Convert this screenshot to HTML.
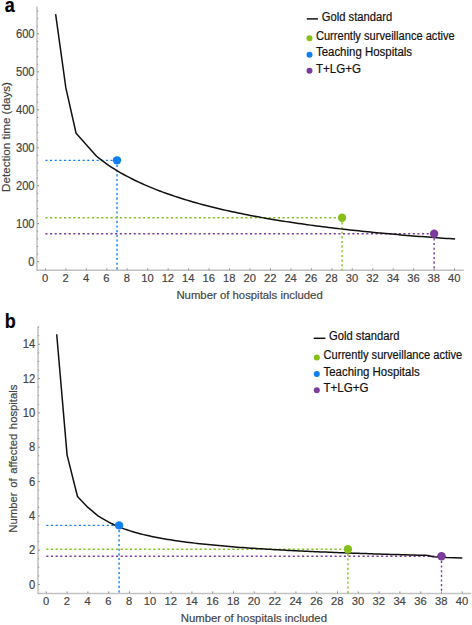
<!DOCTYPE html><html><head><meta charset="utf-8"><style>html,body{margin:0;padding:0;background:#fff;}svg{display:block;}text{font-family:"Liberation Sans",sans-serif;stroke:currentColor;stroke-width:0.18px;}</style></head><body>
<svg width="472" height="625" viewBox="0 0 472 625">
<path d="M37.0,6.4V270.3H463.8" fill="none" stroke="#c2c2c2" stroke-width="1.5"/>
<path d="M37.0,261.60h2.0M37.0,254.01h1.2M37.0,246.42h1.2M37.0,238.83h1.2M37.0,231.24h1.2M37.0,223.65h2.0M37.0,216.06h1.2M37.0,208.47h1.2M37.0,200.88h1.2M37.0,193.29h1.2M37.0,185.70h2.0M37.0,178.11h1.2M37.0,170.52h1.2M37.0,162.93h1.2M37.0,155.34h1.2M37.0,147.75h2.0M37.0,140.16h1.2M37.0,132.57h1.2M37.0,124.98h1.2M37.0,117.39h1.2M37.0,109.80h2.0M37.0,102.21h1.2M37.0,94.62h1.2M37.0,87.03h1.2M37.0,79.44h1.2M37.0,71.85h2.0M37.0,64.26h1.2M37.0,56.67h1.2M37.0,49.08h1.2M37.0,41.49h1.2M37.0,33.90h2.0M37.0,26.31h1.2M37.0,18.72h1.2M37.0,11.13h1.2M45.40,270.3v-2.0M65.86,270.3v-2.0M86.32,270.3v-2.0M106.78,270.3v-2.0M127.24,270.3v-2.0M147.70,270.3v-2.0M168.16,270.3v-2.0M188.62,270.3v-2.0M209.08,270.3v-2.0M229.54,270.3v-2.0M250.00,270.3v-2.0M270.46,270.3v-2.0M290.92,270.3v-2.0M311.38,270.3v-2.0M331.84,270.3v-2.0M352.30,270.3v-2.0M372.76,270.3v-2.0M393.22,270.3v-2.0M413.68,270.3v-2.0M434.14,270.3v-2.0M454.60,270.3v-2.0" stroke="#8a8a8a" stroke-width="0.9" fill="none"/>
<text transform="translate(34.6,265.80) scale(1,1.07)" text-anchor="end" font-size="11.2" fill="#444" color="#444">0</text>
<text transform="translate(34.6,227.85) scale(1,1.07)" text-anchor="end" font-size="11.2" fill="#444" color="#444">100</text>
<text transform="translate(34.6,189.90) scale(1,1.07)" text-anchor="end" font-size="11.2" fill="#444" color="#444">200</text>
<text transform="translate(34.6,151.95) scale(1,1.07)" text-anchor="end" font-size="11.2" fill="#444" color="#444">300</text>
<text transform="translate(34.6,114.00) scale(1,1.07)" text-anchor="end" font-size="11.2" fill="#444" color="#444">400</text>
<text transform="translate(34.6,76.05) scale(1,1.07)" text-anchor="end" font-size="11.2" fill="#444" color="#444">500</text>
<text transform="translate(34.6,38.10) scale(1,1.07)" text-anchor="end" font-size="11.2" fill="#444" color="#444">600</text>
<text transform="translate(45.10,282.2)" text-anchor="middle" font-size="11.2" fill="#444" color="#444">0</text>
<text transform="translate(65.56,282.2)" text-anchor="middle" font-size="11.2" fill="#444" color="#444">2</text>
<text transform="translate(86.02,282.2)" text-anchor="middle" font-size="11.2" fill="#444" color="#444">4</text>
<text transform="translate(106.48,282.2)" text-anchor="middle" font-size="11.2" fill="#444" color="#444">6</text>
<text transform="translate(126.94,282.2)" text-anchor="middle" font-size="11.2" fill="#444" color="#444">8</text>
<text transform="translate(147.40,282.2)" text-anchor="middle" font-size="11.2" fill="#444" color="#444">10</text>
<text transform="translate(167.86,282.2)" text-anchor="middle" font-size="11.2" fill="#444" color="#444">12</text>
<text transform="translate(188.32,282.2)" text-anchor="middle" font-size="11.2" fill="#444" color="#444">14</text>
<text transform="translate(208.78,282.2)" text-anchor="middle" font-size="11.2" fill="#444" color="#444">16</text>
<text transform="translate(229.24,282.2)" text-anchor="middle" font-size="11.2" fill="#444" color="#444">18</text>
<text transform="translate(249.70,282.2)" text-anchor="middle" font-size="11.2" fill="#444" color="#444">20</text>
<text transform="translate(270.16,282.2)" text-anchor="middle" font-size="11.2" fill="#444" color="#444">22</text>
<text transform="translate(290.62,282.2)" text-anchor="middle" font-size="11.2" fill="#444" color="#444">24</text>
<text transform="translate(311.08,282.2)" text-anchor="middle" font-size="11.2" fill="#444" color="#444">26</text>
<text transform="translate(331.54,282.2)" text-anchor="middle" font-size="11.2" fill="#444" color="#444">28</text>
<text transform="translate(352.00,282.2)" text-anchor="middle" font-size="11.2" fill="#444" color="#444">30</text>
<text transform="translate(372.46,282.2)" text-anchor="middle" font-size="11.2" fill="#444" color="#444">32</text>
<text transform="translate(392.92,282.2)" text-anchor="middle" font-size="11.2" fill="#444" color="#444">34</text>
<text transform="translate(413.38,282.2)" text-anchor="middle" font-size="11.2" fill="#444" color="#444">36</text>
<text transform="translate(433.84,282.2)" text-anchor="middle" font-size="11.2" fill="#444" color="#444">38</text>
<text transform="translate(454.30,282.2)" text-anchor="middle" font-size="11.2" fill="#444" color="#444">40</text>
<text transform="translate(176.4,298.7)" font-size="11.35" fill="#444" color="#444">Number of hospitals included</text>
<text transform="translate(9.9,137.0) rotate(-90) scale(1.03,1.03)" text-anchor="middle" font-size="11.3" word-spacing="0" fill="#444" color="#444">Detection time (days)</text>
<path d="M45.40,160.34H117.01M117.01,160.34V270.3" stroke="#0f7ff2" stroke-width="1.4" stroke-dasharray="2.1,2.55" fill="none"/>
<path d="M45.40,217.71H342.07M342.07,217.71V270.3" stroke="#86bf1a" stroke-width="1.4" stroke-dasharray="2.1,2.55" fill="none"/>
<path d="M45.40,233.68H434.14M434.14,233.68V270.3" stroke="#7b3c9c" stroke-width="1.4" stroke-dasharray="2.1,2.55" fill="none"/>
<path d="M55.63,14.03 L65.86,87.95 L76.09,133.28 L96.55,156.22 L99.56,158.66 L102.58,160.97 L105.59,163.17 L108.60,165.26 L111.62,167.26 L114.63,169.18 L117.64,171.02 L120.65,172.79 L123.67,174.49 L126.68,176.12 L129.69,177.70 L132.71,179.23 L135.72,180.71 L138.73,182.14 L141.75,183.52 L144.76,184.86 L147.77,186.16 L150.79,187.42 L153.80,188.65 L156.81,189.84 L159.83,191.00 L162.84,192.12 L165.85,193.22 L168.86,194.29 L171.88,195.33 L174.89,196.34 L177.90,197.33 L180.92,198.29 L183.93,199.24 L186.94,200.15 L189.96,201.05 L192.97,201.92 L195.98,202.78 L199.00,203.62 L202.01,204.43 L205.02,205.23 L208.04,206.01 L211.05,206.78 L214.06,207.52 L217.07,208.26 L220.09,208.97 L223.10,209.67 L226.11,210.36 L229.13,211.03 L232.14,211.69 L235.15,212.34 L238.17,212.97 L241.18,213.60 L244.19,214.20 L247.21,214.80 L250.22,215.39 L253.23,215.96 L256.25,216.53 L259.26,217.08 L262.27,217.62 L265.28,218.16 L268.30,218.68 L271.31,219.19 L274.32,219.70 L277.34,220.19 L280.35,220.68 L283.36,221.16 L286.38,221.63 L289.39,222.09 L292.40,222.55 L295.42,222.99 L298.43,223.43 L301.44,223.86 L304.46,224.29 L307.47,224.71 L310.48,225.12 L313.49,225.52 L316.51,225.92 L319.52,226.31 L322.53,226.69 L325.55,227.07 L328.56,227.45 L331.57,227.81 L334.59,228.17 L337.60,228.53 L340.61,228.88 L343.63,229.22 L346.64,229.56 L349.65,229.90 L352.67,230.23 L355.68,230.55 L358.69,230.87 L361.70,231.18 L364.72,231.49 L367.73,231.80 L370.74,232.10 L373.76,232.40 L376.77,232.69 L379.78,232.98 L382.80,233.26 L385.81,233.54 L388.82,233.82 L391.84,234.09 L394.85,234.36 L397.86,234.62 L400.88,234.88 L403.89,235.14 L406.90,235.39 L409.91,235.64 L412.93,235.89 L415.94,236.13 L418.95,236.38 L421.97,236.61 L424.98,236.85 L427.99,237.08 L431.01,237.30 L434.02,237.53 L437.03,237.75 L440.05,237.97 L443.06,238.19 L446.07,238.40 L449.09,238.61 L452.10,238.82 L455.11,239.02" stroke="#111" stroke-width="1.5" fill="none" stroke-linejoin="round"/>
<circle cx="117.01" cy="160.34" r="4.2" fill="#0f7ff2"/>
<circle cx="342.07" cy="217.71" r="4.2" fill="#86bf1a"/>
<circle cx="434.14" cy="233.68" r="4.2" fill="#7b3c9c"/>
<path d="M306.8,18.9H317.9" stroke="#111" stroke-width="1.5"/>
<text transform="translate(321.7,20.7) scale(1,1.07)" font-size="11.1" textLength="70.5" lengthAdjust="spacingAndGlyphs" fill="#111" color="#111">Gold standard</text>
<circle cx="309.5" cy="38.2" r="3" fill="#86bf1a"/>
<text transform="translate(315.9,39.8) scale(1,1.07)" font-size="11.1" textLength="138.8" lengthAdjust="spacingAndGlyphs" fill="#111" color="#111">Currently surveillance active</text>
<circle cx="309.5" cy="54.7" r="3" fill="#0f7ff2"/>
<text transform="translate(315.9,56.1) scale(1,1.07)" font-size="11.1" textLength="96.2" lengthAdjust="spacingAndGlyphs" fill="#111" color="#111">Teaching Hospitals</text>
<circle cx="309.5" cy="70.8" r="3" fill="#7b3c9c"/>
<text transform="translate(315.9,72.5) scale(1,1.07)" font-size="11.1" textLength="45.1" lengthAdjust="spacingAndGlyphs" fill="#111" color="#111">T+LG+G</text>
<text transform="translate(4.8,12.4) scale(1,1.09)" font-size="18" font-weight="bold" fill="#000" color="#000">a</text>
<path d="M38.0,326.3V593.4H471.3" fill="none" stroke="#c2c2c2" stroke-width="1.5"/>
<path d="M38.0,584.50h2.0M38.0,575.92h1.2M38.0,567.34h1.2M38.0,558.76h1.2M38.0,550.18h2.0M38.0,541.60h1.2M38.0,533.02h1.2M38.0,524.44h1.2M38.0,515.86h2.0M38.0,507.28h1.2M38.0,498.70h1.2M38.0,490.12h1.2M38.0,481.54h2.0M38.0,472.96h1.2M38.0,464.38h1.2M38.0,455.80h1.2M38.0,447.22h2.0M38.0,438.64h1.2M38.0,430.06h1.2M38.0,421.48h1.2M38.0,412.90h2.0M38.0,404.32h1.2M38.0,395.74h1.2M38.0,387.16h1.2M38.0,378.58h2.0M38.0,370.00h1.2M38.0,361.42h1.2M38.0,352.84h1.2M38.0,344.26h2.0M38.0,335.68h1.2M38.0,327.10h1.2M46.30,593.4v-2.0M67.10,593.4v-2.0M87.90,593.4v-2.0M108.70,593.4v-2.0M129.50,593.4v-2.0M150.30,593.4v-2.0M171.10,593.4v-2.0M191.90,593.4v-2.0M212.70,593.4v-2.0M233.50,593.4v-2.0M254.30,593.4v-2.0M275.10,593.4v-2.0M295.90,593.4v-2.0M316.70,593.4v-2.0M337.50,593.4v-2.0M358.30,593.4v-2.0M379.10,593.4v-2.0M399.90,593.4v-2.0M420.70,593.4v-2.0M441.50,593.4v-2.0M462.30,593.4v-2.0" stroke="#8a8a8a" stroke-width="0.9" fill="none"/>
<text transform="translate(35.2,588.70) scale(1,1.07)" text-anchor="end" font-size="11.2" fill="#444" color="#444">0</text>
<text transform="translate(35.2,554.38) scale(1,1.07)" text-anchor="end" font-size="11.2" fill="#444" color="#444">2</text>
<text transform="translate(35.2,520.06) scale(1,1.07)" text-anchor="end" font-size="11.2" fill="#444" color="#444">4</text>
<text transform="translate(35.2,485.74) scale(1,1.07)" text-anchor="end" font-size="11.2" fill="#444" color="#444">6</text>
<text transform="translate(35.2,451.42) scale(1,1.07)" text-anchor="end" font-size="11.2" fill="#444" color="#444">8</text>
<text transform="translate(35.2,417.10) scale(1,1.07)" text-anchor="end" font-size="11.2" fill="#444" color="#444">10</text>
<text transform="translate(35.2,382.78) scale(1,1.07)" text-anchor="end" font-size="11.2" fill="#444" color="#444">12</text>
<text transform="translate(35.2,348.46) scale(1,1.07)" text-anchor="end" font-size="11.2" fill="#444" color="#444">14</text>
<text transform="translate(46.00,605.4)" text-anchor="middle" font-size="11.2" fill="#444" color="#444">0</text>
<text transform="translate(66.80,605.4)" text-anchor="middle" font-size="11.2" fill="#444" color="#444">2</text>
<text transform="translate(87.60,605.4)" text-anchor="middle" font-size="11.2" fill="#444" color="#444">4</text>
<text transform="translate(108.40,605.4)" text-anchor="middle" font-size="11.2" fill="#444" color="#444">6</text>
<text transform="translate(129.20,605.4)" text-anchor="middle" font-size="11.2" fill="#444" color="#444">8</text>
<text transform="translate(150.00,605.4)" text-anchor="middle" font-size="11.2" fill="#444" color="#444">10</text>
<text transform="translate(170.80,605.4)" text-anchor="middle" font-size="11.2" fill="#444" color="#444">12</text>
<text transform="translate(191.60,605.4)" text-anchor="middle" font-size="11.2" fill="#444" color="#444">14</text>
<text transform="translate(212.40,605.4)" text-anchor="middle" font-size="11.2" fill="#444" color="#444">16</text>
<text transform="translate(233.20,605.4)" text-anchor="middle" font-size="11.2" fill="#444" color="#444">18</text>
<text transform="translate(254.00,605.4)" text-anchor="middle" font-size="11.2" fill="#444" color="#444">20</text>
<text transform="translate(274.80,605.4)" text-anchor="middle" font-size="11.2" fill="#444" color="#444">22</text>
<text transform="translate(295.60,605.4)" text-anchor="middle" font-size="11.2" fill="#444" color="#444">24</text>
<text transform="translate(316.40,605.4)" text-anchor="middle" font-size="11.2" fill="#444" color="#444">26</text>
<text transform="translate(337.20,605.4)" text-anchor="middle" font-size="11.2" fill="#444" color="#444">28</text>
<text transform="translate(358.00,605.4)" text-anchor="middle" font-size="11.2" fill="#444" color="#444">30</text>
<text transform="translate(378.80,605.4)" text-anchor="middle" font-size="11.2" fill="#444" color="#444">32</text>
<text transform="translate(399.60,605.4)" text-anchor="middle" font-size="11.2" fill="#444" color="#444">34</text>
<text transform="translate(420.40,605.4)" text-anchor="middle" font-size="11.2" fill="#444" color="#444">36</text>
<text transform="translate(441.20,605.4)" text-anchor="middle" font-size="11.2" fill="#444" color="#444">38</text>
<text transform="translate(462.00,605.4)" text-anchor="middle" font-size="11.2" fill="#444" color="#444">40</text>
<text transform="translate(180.7,621.9)" font-size="11.35" fill="#444" color="#444">Number of hospitals included</text>
<text transform="translate(16.5,458.6) rotate(-90) scale(1.0,1.03)" text-anchor="middle" font-size="11.3" word-spacing="1.5" fill="#444" color="#444">Number of affected hospitals</text>
<path d="M46.30,525.40H119.10M119.10,525.40V593.4" stroke="#0f7ff2" stroke-width="1.4" stroke-dasharray="2.1,2.55" fill="none"/>
<path d="M46.30,549.20H347.90M347.90,549.20V593.4" stroke="#86bf1a" stroke-width="1.4" stroke-dasharray="2.1,2.55" fill="none"/>
<path d="M46.30,556.20H441.50M441.50,556.20V593.4" stroke="#7b3c9c" stroke-width="1.4" stroke-dasharray="2.1,2.55" fill="none"/>
<path d="M56.70,334.21 L67.10,455.12 L77.50,496.45 L87.90,507.40 L98.30,516.05 L108.70,522.09 L111.38,523.48 L114.07,524.77 L116.75,525.97 L119.43,527.08 L122.12,528.13 L124.80,529.11 L127.48,530.03 L130.16,530.90 L132.85,531.72 L135.53,532.50 L138.21,533.24 L140.90,533.94 L143.58,534.61 L146.26,535.24 L148.95,535.84 L151.63,536.42 L154.31,536.97 L156.99,537.50 L159.68,538.01 L162.36,538.50 L165.04,538.97 L167.73,539.42 L170.41,539.85 L173.09,540.27 L175.78,540.67 L178.46,541.06 L181.14,541.43 L183.82,541.79 L186.51,542.15 L189.19,542.48 L191.87,542.81 L194.56,543.13 L197.24,543.44 L199.92,543.74 L202.61,544.03 L205.29,544.31 L207.97,544.59 L210.65,544.86 L213.34,545.12 L216.02,545.37 L218.70,545.62 L221.39,545.86 L224.07,546.09 L226.75,546.32 L229.44,546.54 L232.12,546.76 L234.80,546.97 L237.49,547.18 L240.17,547.38 L242.85,547.58 L245.53,547.78 L248.22,547.96 L250.90,548.15 L253.58,548.33 L256.27,548.51 L258.95,548.68 L261.63,548.85 L264.32,549.02 L267.00,549.18 L269.68,549.34 L272.36,549.50 L275.05,549.66 L277.73,549.81 L280.41,549.96 L283.10,550.10 L285.78,550.25 L288.46,550.39 L291.15,550.52 L293.83,550.66 L296.51,550.79 L299.19,550.92 L301.88,551.05 L304.56,551.18 L307.24,551.30 L309.93,551.43 L312.61,551.55 L315.29,551.67 L317.98,551.78 L320.66,551.90 L323.34,552.01 L326.03,552.12 L328.71,552.23 L331.39,552.34 L334.07,552.45 L336.76,552.55 L339.44,552.66 L342.12,552.76 L344.81,552.86 L347.49,552.96 L350.17,553.06 L352.86,553.15 L355.54,553.25 L358.22,553.34 L360.90,553.43 L363.59,553.52 L366.27,553.61 L368.95,553.70 L371.64,553.79 L374.32,553.88 L377.00,553.96 L379.69,554.05 L382.37,554.13 L385.05,554.21 L387.73,554.30 L390.42,554.38 L393.10,554.46 L395.78,554.53 L398.47,554.61 L401.15,554.69 L403.83,554.76 L406.52,554.84 L409.20,554.91 L411.88,554.99 L414.56,555.06 L417.25,555.13 L419.93,555.20 L422.61,555.27 L425.30,555.34 L427.98,555.41 L433.18,556.70 L446.70,557.50 L462.30,557.90" stroke="#111" stroke-width="1.5" fill="none" stroke-linejoin="round"/>
<circle cx="119.10" cy="525.40" r="4.2" fill="#0f7ff2"/>
<circle cx="347.90" cy="549.20" r="4.2" fill="#86bf1a"/>
<circle cx="441.50" cy="556.20" r="4.2" fill="#7b3c9c"/>
<path d="M313.7,338.3H325.4" stroke="#111" stroke-width="1.5"/>
<text transform="translate(329,340.4) scale(1,1.07)" font-size="11.1" textLength="70.5" lengthAdjust="spacingAndGlyphs" fill="#111" color="#111">Gold standard</text>
<circle cx="316.8" cy="357.4" r="3" fill="#86bf1a"/>
<text transform="translate(323.5,359.09999999999997) scale(1,1.07)" font-size="11.1" textLength="138.8" lengthAdjust="spacingAndGlyphs" fill="#111" color="#111">Currently surveillance active</text>
<circle cx="316.8" cy="373.9" r="3" fill="#0f7ff2"/>
<text transform="translate(323.5,375.59999999999997) scale(1,1.07)" font-size="11.1" textLength="96.2" lengthAdjust="spacingAndGlyphs" fill="#111" color="#111">Teaching Hospitals</text>
<circle cx="316.8" cy="390.2" r="3" fill="#7b3c9c"/>
<text transform="translate(323.5,391.79999999999995) scale(1,1.07)" font-size="11.1" textLength="45.1" lengthAdjust="spacingAndGlyphs" fill="#111" color="#111">T+LG+G</text>
<text transform="translate(4.8,327.6) scale(1,1.09)" font-size="18" font-weight="bold" fill="#000" color="#000">b</text>
</svg></body></html>
